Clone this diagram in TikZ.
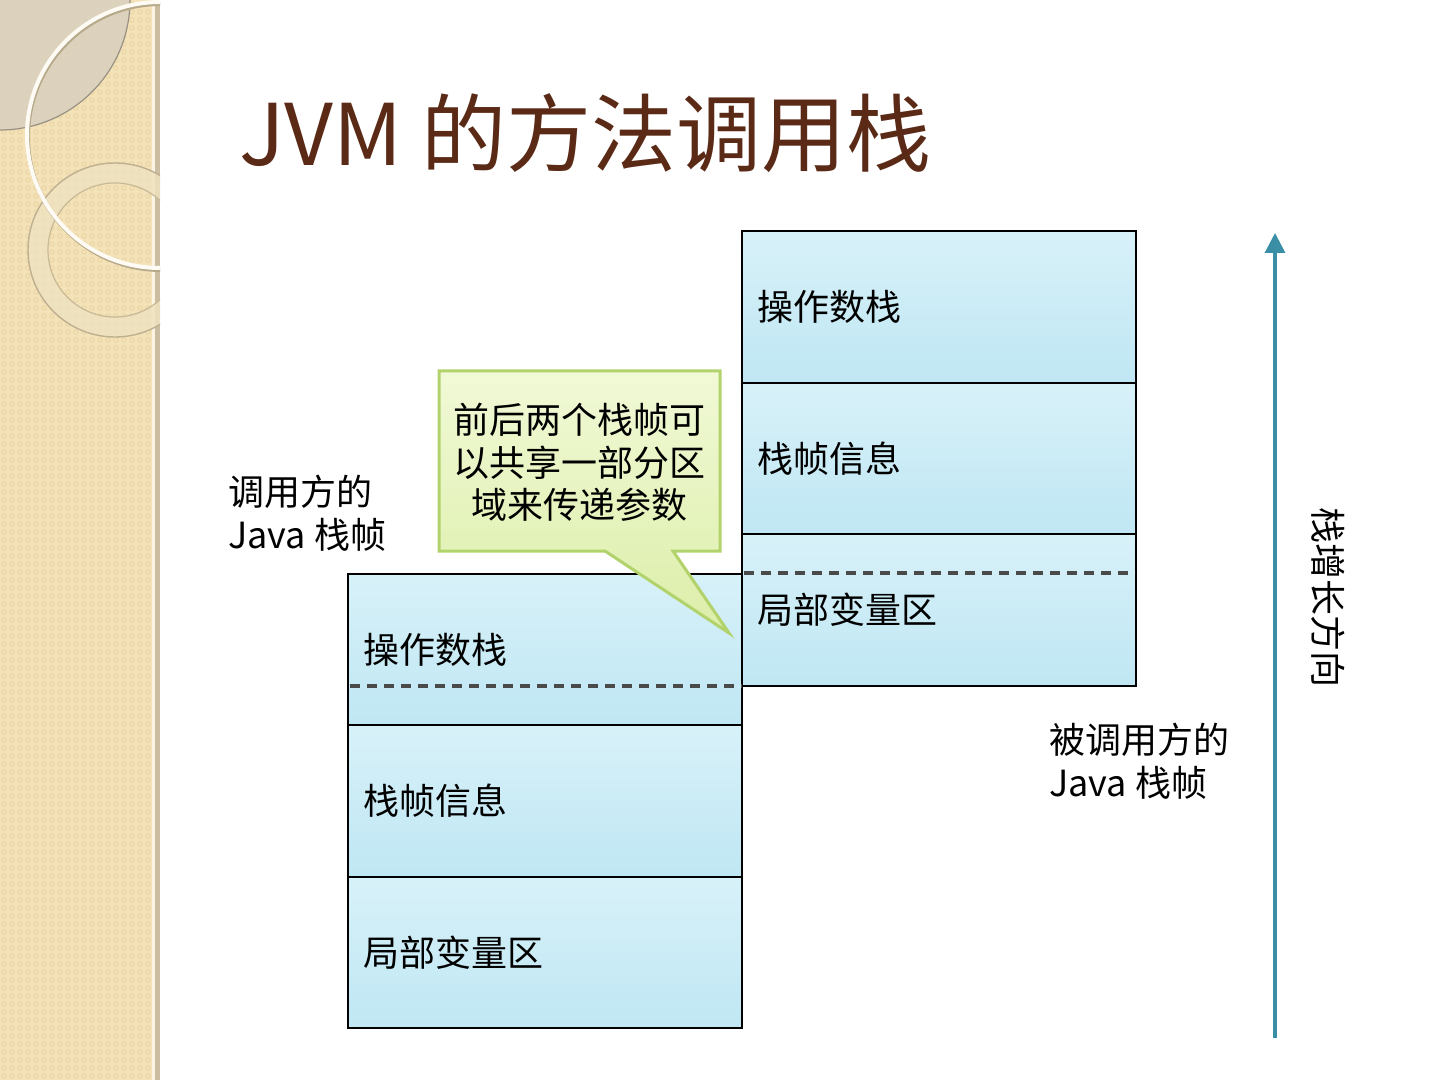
\documentclass[tikz,border=0pt]{standalone}
\usepackage{fontspec}
\setmainfont{Noto Sans CJK SC}
\usetikzlibrary{arrows.meta}
\definecolor{titlec}{HTML}{5A2A16}
\definecolor{boxtop}{HTML}{D8F1F9}
\definecolor{boxbot}{HTML}{BFE7F3}
\definecolor{calltop}{HTML}{F1F9D6}
\definecolor{callbot}{HTML}{DCEEA9}
\definecolor{callline}{HTML}{B2D36B}
\definecolor{arrowc}{HTML}{3A8FA7}
\definecolor{stripc}{HTML}{F4E2B8}
\definecolor{patc}{HTML}{E9D3A2}
\definecolor{stripedge}{HTML}{CBBDA2}
\definecolor{lensc}{HTML}{D9D0BE}
\definecolor{ringc}{HTML}{EFE2C0}
\definecolor{dashc}{HTML}{4A4A4A}
\tikzset{
  rowbox/.style={draw=black, line width=0.9pt, top color=boxtop, bottom color=boxbot,
    minimum width=197pt, minimum height=75.75pt, text width=182pt, align=left,
    inner xsep=7.5pt, font=\fontsize{18}{21}\selectfont},
  dashline/.style={draw=dashc, line width=1.7pt, dash pattern=on 5pt off 3.5pt},
  lbl/.style={align=left, font=\fontsize{18}{21.5}\selectfont, inner sep=0pt},
  calltext/.style={align=center, font=\fontsize{18}{21.25}\selectfont, inner sep=0pt},
  growarrow/.style={draw=arrowc, line width=1.6pt, -{Triangle[width=10pt,length=10pt]}}
}
\begin{document}
\begin{tikzpicture}[x=0.5pt,y=-0.5pt]
\useasboundingbox (0,0) rectangle (1440,1080);
\fill[white] (0,0) rectangle (1440,1080);
% left decorative strip
\begin{scope}
  \clip (0,0) rectangle (160,1080);
  \fill[stripc] (0,0) rectangle (160,1080);
  \foreach \i in {0,...,19}{
    \foreach \j in {0,...,134}{
      \draw[patc, line width=0.45pt] (\i*8+4,\j*8+4) circle (2.2);
    }
  }
  \fill[stripedge] (155,0) rectangle (160,1080);
  \fill[white!60!stripc] (152,0) rectangle (155,1080);
  \fill[lensc, opacity=0.85] (0,0) circle (130);
  \draw[black!30!lensc, line width=0.6pt] (0,0) circle (130);
  % lower ring
  \draw[ringc, opacity=0.85, line width=9.5pt] (115,250) circle (77);
  \draw[black!22!stripc, line width=0.7pt] (115,250) circle (87);
  \draw[black!18!stripc, line width=0.6pt] (115,250) circle (67);
  % big thin ring
  \draw[black!25!stripc, line width=2pt] (161,137) circle (133);
  \draw[white!85!stripc, line width=2pt] (160,135) circle (133);
\end{scope}
% title
\node[anchor=base west, inner sep=0pt, text=titlec, font=\fontsize{42.5}{48}\selectfont] (title) at (239,166) {JVM 的方法调用栈};
% caller frame (left)
\node[rowbox] (L1) at (545,649.5) {操作数栈};
\node[rowbox] (L2) at (545,801) {栈帧信息};
\node[rowbox] (L3) at (545,952.5) {局部变量区};
% callee frame (right)
\node[rowbox] (R1) at (939,307) {操作数栈};
\node[rowbox] (R2) at (939,458.5) {栈帧信息};
\node[rowbox] (R3) at (939,610) {局部变量区};
% shared region dashed lines
\draw[dashline] (350,686) -- (742,686);
\draw[dashline] (744,573) -- (1135,573);
% callout
\coordinate (ctip) at (729,633);
\shade[top color=calltop, bottom color=callbot]
  (439,371) -- (720,371) -- (720,551) -- (673,551) -- (ctip) -- (605,551) -- (439,551) -- cycle;
\draw[callline, line width=1.5pt, line join=miter]
  (439,371) -- (720,371) -- (720,551) -- (673,551) -- (ctip) -- (605,551) -- (439,551) -- cycle;
\node[calltext] (callout) at (579,462.5) {前后两个栈帧可\\以共享一部分区\\域来传递参数};
% labels
\node[lbl, anchor=west] (caller) at (228,513.5) {调用方的\\Java 栈帧};
\node[lbl, anchor=west] (callee) at (1049,761.5) {被调用方的\\Java 栈帧};
% growth arrow
\coordinate (abot) at (1275,1038);
\coordinate (atop) at (1275,233);
\draw[growarrow] (abot) -- (atop);
\node[rotate=-90, inner sep=0pt, font=\fontsize{18}{21}\selectfont] (growtxt) at (1328,597) {栈增长方向};
\end{tikzpicture}
\end{document}
